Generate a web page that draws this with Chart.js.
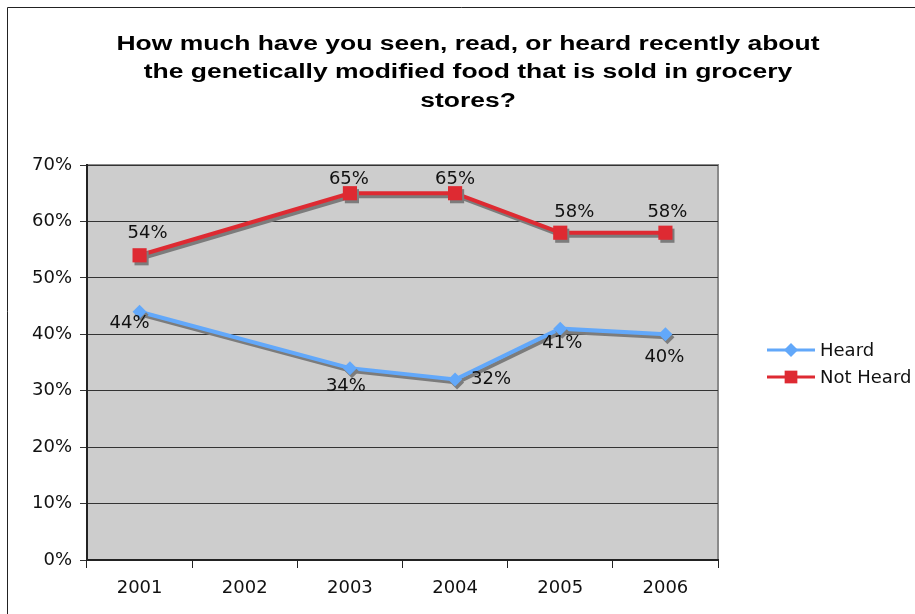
<!DOCTYPE html>
<html>
<head>
<meta charset="utf-8">
<script src="https://cdn.jsdelivr.net/npm/chart.js@4"></script>
<style>
  html, body { margin: 0; padding: 0; background: #fff; }
  #wrap { width: 915px; height: 614px; }
</style>
</head>
<body>
<div id="wrap"><canvas id="myChart" width="915" height="614"></canvas></div>
<script>
// Survey years and results (percent)
const years = ['2001', '2002', '2003', '2004', '2005', '2006'];
const heard = [44, null, 34, 32, 41, 40];
const notHeard = [54, null, 65, 65, 58, 58];
const yTicks = [0, 10, 20, 30, 40, 50, 60, 70];

const titleLines = [
    'How much have you seen, read, or heard recently about',
    'the genetically modified food that is sold in grocery',
    'stores?'
];

const BLUE = '#62A8FA';
const RED = '#DE2A32';
const FONT = '"DejaVu Sans", Verdana, sans-serif';

// Gray plot background, frame and title
const backdrop = {
    id: 'backdrop',
    beforeDraw(chart) {
        const { ctx, chartArea: a } = chart;
        ctx.save();
        ctx.fillStyle = '#fff';
        ctx.fillRect(0, 0, chart.width, chart.height);
        // outer frame
        ctx.strokeStyle = '#222';
        ctx.lineWidth = 1;
        ctx.beginPath();
        ctx.moveTo(7.5, chart.height + 5);
        ctx.lineTo(7.5, 7.5);
        ctx.lineTo(chart.width + 5, 7.5);
        ctx.stroke();
        // plot area
        ctx.fillStyle = '#CDCDCD';
        ctx.fillRect(a.left, a.top, a.right - a.left, a.bottom - a.top);
        ctx.strokeStyle = '#8a8a8a';
        ctx.lineWidth = 2;
        ctx.beginPath();
        ctx.moveTo(a.left, a.top);
        ctx.lineTo(a.right, a.top);
        ctx.lineTo(a.right, a.bottom);
        ctx.stroke();
        // title (wide bold face, stretched to the original width)
        ctx.fillStyle = '#000';
        ctx.font = 'bold 20px "Liberation Sans", Arial, sans-serif';
        const sx = 703 / ctx.measureText(titleLines[0]).width;
        ctx.translate(468, 0);
        ctx.scale(sx, 1);
        ctx.textAlign = 'center';
        ctx.textBaseline = 'middle';
        titleLines.forEach((t, i) => ctx.fillText(t, 0, 44 + i * 28.5));
        ctx.restore();
    }
};

// Gray drop shadow under lines and markers
const shadow = {
    id: 'shadow',
    beforeDatasetsDraw(chart) {
        const ctx = chart.ctx;
        ctx.save();
        ctx.shadowColor = '#7c7c7c';
        ctx.shadowOffsetX = 2;
        ctx.shadowOffsetY = 3;
        ctx.shadowBlur = 0;
    },
    afterDatasetsDraw(chart) {
        chart.ctx.restore();
    }
};

// Value labels next to each point
const labelOffsets = [
    [[-10, 12], null, [-4, 18], [36, 0], [2, 15], [-1, 23]],
    [[8, -22], null, [-1, -14], [0, -14], [14, -20], [2, -20]]
];
const valueLabels = {
    id: 'valueLabels',
    afterDatasetsDraw(chart) {
        const ctx = chart.ctx;
        ctx.save();
        ctx.fillStyle = '#111';
        ctx.font = '18px ' + FONT;
        ctx.textAlign = 'center';
        ctx.textBaseline = 'middle';
        chart.data.datasets.forEach((ds, di) => {
            chart.getDatasetMeta(di).data.forEach((pt, i) => {
                if (ds.data[i] == null) return;
                const off = labelOffsets[di][i];
                ctx.fillText(ds.data[i] + '%', pt.x + off[0], pt.y + off[1]);
            });
        });
        ctx.restore();
    }
};

// Excel-like legend on the right
const sideLegend = {
    id: 'sideLegend',
    afterDraw(chart) {
        const ctx = chart.ctx;
        ctx.save();
        ctx.font = '18px ' + FONT;
        ctx.textBaseline = 'middle';
        chart.data.datasets.forEach((ds, i) => {
            const y = 350 + i * 27;
            ctx.strokeStyle = ds.borderColor;
            ctx.lineWidth = 3;
            ctx.beginPath();
            ctx.moveTo(767, y);
            ctx.lineTo(815, y);
            ctx.stroke();
            ctx.fillStyle = ds.borderColor;
            Chart.helpers.drawPoint(ctx, {
                pointStyle: ds.pointStyle,
                radius: ds.pointStyle === 'rect' ? 9 : 7,
                borderWidth: 0
            }, 791, y);
            ctx.fillStyle = '#111';
            ctx.fillText(ds.label, 820, y + 1);
        });
        ctx.restore();
    }
};

const ctx = document.getElementById('myChart').getContext('2d');
const myChart = new Chart(ctx, {
    type: 'line',
    data: {
        labels: years,
        datasets: [
            {
                label: 'Heard',
                data: heard,
                borderColor: BLUE,
                backgroundColor: BLUE,
                borderWidth: 4,
                pointStyle: 'rectRot',
                pointRadius: 7,
                pointBorderWidth: 0,
                tension: 0
            },
            {
                label: 'Not Heard',
                data: notHeard,
                borderColor: RED,
                backgroundColor: RED,
                borderWidth: 4,
                pointStyle: 'rect',
                pointRadius: 10,
                pointBorderWidth: 0,
                tension: 0
            }
        ]
    },
    options: {
        responsive: false,
        animation: false,
        spanGaps: true,
        layout: { padding: { left: 0, top: 165, right: 197, bottom: 0 } },
        plugins: {
            legend: { display: false },
            title: { display: false },
            tooltip: { enabled: false }
        },
        scales: {
            x: {
                offset: true,
                grid: {
                    offset: true,
                    drawOnChartArea: false,
                    color: '#222',
                    tickLength: 8
                },
                border: { color: '#222', width: 2 },
                ticks: {
                    color: '#111',
                    padding: 10,
                    font: { family: FONT, size: 18 }
                },
                afterFit(scale) { scale.height = 54; }
            },
            y: {
                min: 0,
                max: 70,
                afterBuildTicks(scale) {
                    scale.ticks = yTicks.map((v) => ({ value: v }));
                },
                grid: { color: '#333', lineWidth: 1, tickLength: 7 },
                border: { color: '#222', width: 2 },
                ticks: {
                    color: '#111',
                    padding: 8,
                    font: { family: FONT, size: 18 },
                    callback: (v) => v + '%'
                },
                afterFit(scale) { scale.width = 87; }
            }
        }
    },
    plugins: [backdrop, shadow, valueLabels, sideLegend]
});
</script>
</body>
</html>
